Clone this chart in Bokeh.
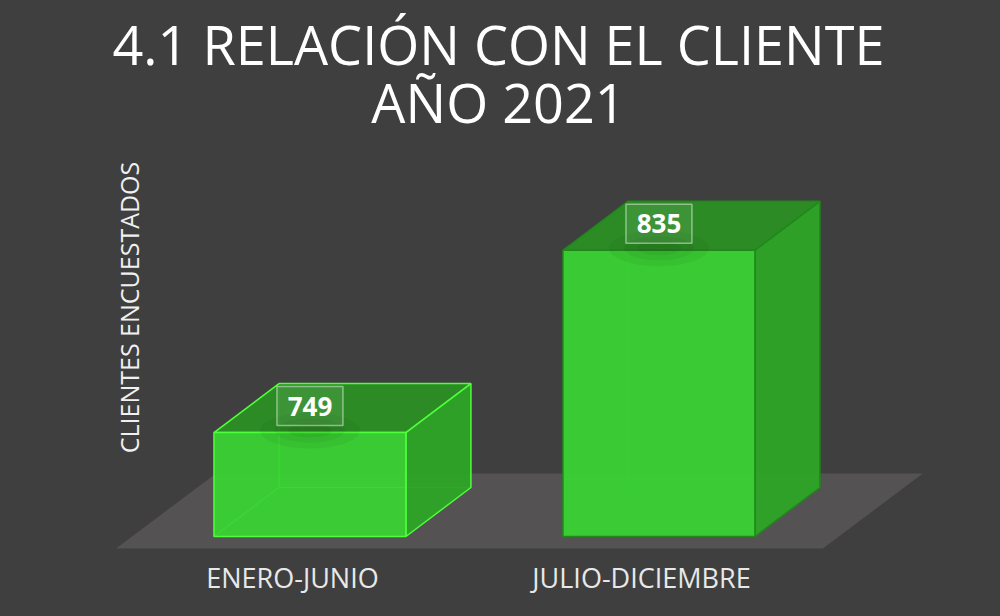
import math
from bokeh.plotting import figure
from bokeh.models import Range1d, ColumnDataSource, Label, FixedTicker
from bokeh.core.properties import value
from bokeh.embed import file_html
from bokeh.resources import INLINE

# ---------------- data ----------------
TITLE_LINES = ["4.1 RELACIÓN CON EL CLIENTE", "AÑO 2021"]
Y_LABEL = "CLIENTES ENCUESTADOS"
CATEGORIES = ["ENERO-JUNIO", "JULIO-DICIEMBRE"]
VALUES = [749, 835]
Y_BASE = 700

# ---------------- style / layout ----------------
BG = "#3f3f3f"
FLOOR = "#545253"
FRONT = "#3ad632"
TOP = "#2b8f24"
SIDE = "#2da426"
EDGES = ["#4dff3a", "#1f8a1a"]

W, H = 1000, 616
BOTTOM = 58
FRAME_H = H - BOTTOM
X0_PX = 292.0      # frame px of first category
UX = 349.0         # px per category unit
BASE_PX = 536.0    # frame px (from top) of the baseline
UY = 2.12          # px per value unit

FACE_SHIFT = 0.05
HALF_W = 0.275
DX = 65.0 / UX
DY = 49.0 / UY

x_range = Range1d(-X0_PX / UX, (W - X0_PX) / UX)
y_range = Range1d(Y_BASE - (FRAME_H - BASE_PX) / UY, Y_BASE + BASE_PX / UY)

p = figure(width=W, height=H, x_range=x_range, y_range=y_range,
           output_backend="svg", toolbar_location=None, y_axis_location=None,
           min_border_left=0, min_border_right=0, min_border_top=0,
           min_border_bottom=BOTTOM, background_fill_color=BG,
           border_fill_color=BG, outline_line_color=None)
p.grid.visible = False

# floor parallelogram (derived from bar extents)
n = len(VALUES)
fl_front_y = Y_BASE - 12.0 / UY
fl_back_y = Y_BASE + 63.0 / UY
fl_left = 0 + FACE_SHIFT - HALF_W - 98.0 / UX
fl_right = (n - 1) + FACE_SHIFT + HALF_W + 68.0 / UX
fl_dx = 100.0 / UX
p.patch([fl_left, fl_right, fl_right + fl_dx, fl_left + fl_dx],
        [fl_front_y, fl_front_y, fl_back_y, fl_back_y],
        fill_color=FLOOR, line_color=None)

front_xs, front_ys, top_xs, top_ys, side_xs, side_ys = [], [], [], [], [], []
hid_xs, hid_ys, hid_c = [], [], []
for i, v in enumerate(VALUES):
    xc = i + FACE_SHIFT
    x0, x1 = xc - HALF_W, xc + HALF_W
    y0, y1 = Y_BASE, v
    front_xs.append([x0, x1, x1, x0]); front_ys.append([y0, y0, y1, y1])
    top_xs.append([x0, x1, x1 + DX, x0 + DX]); top_ys.append([y1, y1, y1 + DY, y1 + DY])
    side_xs.append([x1, x1 + DX, x1 + DX, x1]); side_ys.append([y0, y0 + DY, y1 + DY, y1])
    hid_xs.append([x0, x0 + DX, x1 + DX]); hid_ys.append([y0, y0 + DY, y0 + DY]); hid_c.append(EDGES[i])
    hid_xs.append([x0 + DX, x0 + DX]); hid_ys.append([y0 + DY, y1 + DY]); hid_c.append(EDGES[i])

p.multi_line(hid_xs, hid_ys, line_color=hid_c, line_width=1.5, line_alpha=0.8)
p.patches(top_xs, top_ys, fill_color=TOP, fill_alpha=0.95, line_color=EDGES, line_width=1.5)
p.patches(side_xs, side_ys, fill_color=SIDE, fill_alpha=0.95, line_color=EDGES, line_width=1.5)
p.patches(front_xs, front_ys, fill_color=FRONT, fill_alpha=0.92, line_color=EDGES, line_width=1.5)

# value labels
lab = ColumnDataSource(dict(
    x=[i + FACE_SHIFT for i in range(n)],
    y=[v + 26.5 / UY for v in VALUES],
    sy=[v + 2.0 / UY for v in VALUES],
    t=[str(v) for v in VALUES],
))
for w_, h_ in [(100, 36), (70, 24), (44, 14)]:
    p.ellipse(x="x", y="sy", width=w_, height=h_, width_units="screen", height_units="screen",
              source=lab, fill_color="black", fill_alpha=0.045, line_color=None)
p.rect(x="x", y="y", width=66, height=39, width_units="screen", height_units="screen",
       source=lab, fill_color="white", fill_alpha=0.08, line_color="white",
       line_alpha=0.45, line_width=1.5)
p.text(x="x", y="y", text="t", source=lab, text_font=value("Open Sans"),
       text_font_style="bold", text_font_size="26px", text_color="white",
       text_align="center", text_baseline="middle")

# axis with category labels
ax = p.xaxis[0]
ax.ticker = FixedTicker(ticks=list(range(n)))
ax.major_label_overrides = {i: c for i, c in enumerate(CATEGORIES)}
ax.axis_line_color = None
ax.major_tick_line_color = None
ax.minor_tick_line_color = None
ax.major_tick_out = 0
ax.major_tick_in = 0
ax.major_label_standoff = 0
ax.major_label_text_font = "Open Sans"
ax.major_label_text_font_size = "27px"
ax.major_label_text_color = "#e8e8e8"

# titles and y label (screen units, relative to the frame)
p.add_layout(Label(x=498, y=FRAME_H - 63 + 20, x_units="screen", y_units="screen",
                   text=TITLE_LINES[0], text_font="Open Sans", text_font_size="54px",
                   text_color="white", text_align="center", text_baseline="alphabetic"))
p.add_layout(Label(x=498, y=FRAME_H - 122 + 21, x_units="screen", y_units="screen",
                   text=TITLE_LINES[1], text_font="Open Sans", text_font_size="54px",
                   text_color="white", text_align="center", text_baseline="alphabetic"))
p.add_layout(Label(x=128.5, y=FRAME_H - 307, x_units="screen", y_units="screen", text=Y_LABEL,
                   angle=math.pi / 2, text_font="Open Sans", text_font_size="25px",
                   text_color="#f0f0f0", text_align="center", text_baseline="middle"))

html = file_html(p, INLINE)
html = html.replace("</head>", "<style>html,body{background:#3f3f3f;}</style></head>", 1)
open("out.html", "w").write(html)
